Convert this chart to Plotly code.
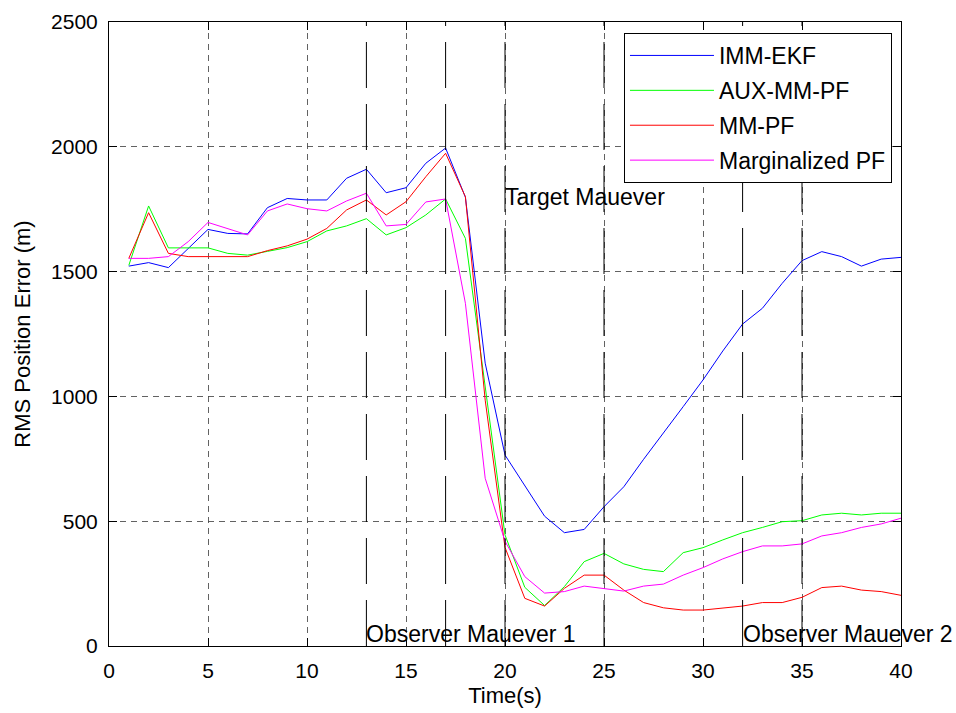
import plotly.graph_objects as go

# Time steps (s)
t = list(range(1, 41))

# RMS position error (m) for each filter
imm_ekf = [1522, 1536, 1516, 1592, 1669, 1653, 1651, 1756, 1793, 1787,
           1787, 1874, 1910, 1816, 1836, 1934, 1995, 1798, 1133, 765,
           640, 520, 454, 467, 558, 638, 748, 852, 959, 1066,
           1182, 1290, 1353, 1453, 1544, 1580, 1560, 1522, 1550, 1557]
aux_mm_pf = [1525, 1763, 1595, 1595, 1595, 1573, 1566, 1581, 1596, 1620,
             1663, 1683, 1712, 1647, 1676, 1727, 1791, 1633, 1030, 445,
             235, 162, 238, 338, 371, 329, 307, 298, 374, 394,
             425, 454, 475, 498, 502, 525, 532, 525, 532, 532]
mm_pf = [1553, 1736, 1573, 1560, 1560, 1560, 1560, 1584, 1603, 1630,
         1673, 1747, 1787, 1727, 1780, 1880, 1974, 1800, 985, 395,
         191, 160, 231, 284, 284, 224, 174, 153, 144, 144,
         151, 160, 174, 174, 195, 234, 240, 224, 218, 203]
marg_pf = [1553, 1553, 1560, 1620, 1697, 1672, 1647, 1743, 1771, 1752,
           1743, 1783, 1814, 1683, 1689, 1779, 1791, 1373, 672, 420,
           278, 212, 218, 240, 231, 220, 240, 248, 284, 314,
           349, 378, 401, 401, 409, 441, 454, 475, 489, 512]

series_names = ["IMM-EKF", "AUX-MM-PF", "MM-PF", "Marginalized PF"]
series_colors = ["#0000FF", "#00FF00", "#FF0000", "#FF00FF"]

# Maneuver start/end times and their labels
event_times = [13, 17, 20, 25, 32, 35]
event_labels = ["Observer Mauever 1", "Target Mauever", "Observer Mauever 2"]
event_label_x = [13, 20, 32]
event_label_y = [50, 1800, 50]

x_ticks = [0, 5, 10, 15, 20, 25, 30, 35, 40]
y_ticks = [0, 500, 1000, 1500, 2000, 2500]

FONT = "Liberation Sans, Arial, sans-serif"
TICK_FS = 21
TITLE_FS = 22
TEXT_FS = 23

fig = go.Figure()
for name, color, vals in zip(series_names, series_colors,
                             [imm_ekf, aux_mm_pf, mm_pf, marg_pf]):
    fig.add_trace(go.Scatter(x=t, y=vals, mode="lines", name=name,
                             legendgroup=name,
                             line=dict(color=color, width=1)))

for xv in event_times:
    fig.add_shape(type="line", xref="x", yref="y", x0=xv, x1=xv, y0=0, y1=2500,
                  line=dict(color="black", width=1, dash="46px,16px"), layer="above")

for txt, xv, yv in zip(event_labels, event_label_x, event_label_y):
    fig.add_annotation(x=xv, y=yv, xref="x", yref="y", text=txt, showarrow=False,
                       xanchor="left", yanchor="middle", xshift=-2,
                       font=dict(family=FONT, size=TEXT_FS, color="black"))

axis_common = dict(
    showline=True, linecolor="black", linewidth=1, mirror="ticks",
    ticks="inside", ticklen=8, tickcolor="black", tickwidth=1,
    showgrid=True, gridcolor="rgba(70,70,70,0.85)", griddash="6px,5px", gridwidth=1,
    zeroline=False, tickfont=dict(family=FONT, size=TICK_FS, color="black"),
)

fig.update_xaxes(range=[0, 40], tickvals=x_ticks, ticktext=[str(v) for v in x_ticks],
                 title=dict(text="Time(s)", font=dict(family=FONT, size=TITLE_FS, color="black"),
                            standoff=6),
                 ticklabelstandoff=6, **axis_common)
fig.update_yaxes(range=[0, 2500], tickvals=y_ticks, ticktext=[str(v) for v in y_ticks],
                 title=dict(text="RMS Position Error (m)",
                            font=dict(family=FONT, size=TITLE_FS, color="black"), standoff=14),
                 ticklabelstandoff=6, **axis_common)

fig.update_layout(
    width=956, height=713,
    margin=dict(l=109, r=55, t=22, b=67, autoexpand=False),
    paper_bgcolor="white", plot_bgcolor="white",
    font=dict(family=FONT, size=TICK_FS, color="black"),
    showlegend=True,
    legend=dict(x=0.9886, y=0.9824, xanchor="right", yanchor="top",
                bgcolor="white", bordercolor="black", borderwidth=1,
                font=dict(family=FONT, size=TEXT_FS, color="black"),
                tracegroupgap=2, itemwidth=84),
)

fig.write_html("out.html")
